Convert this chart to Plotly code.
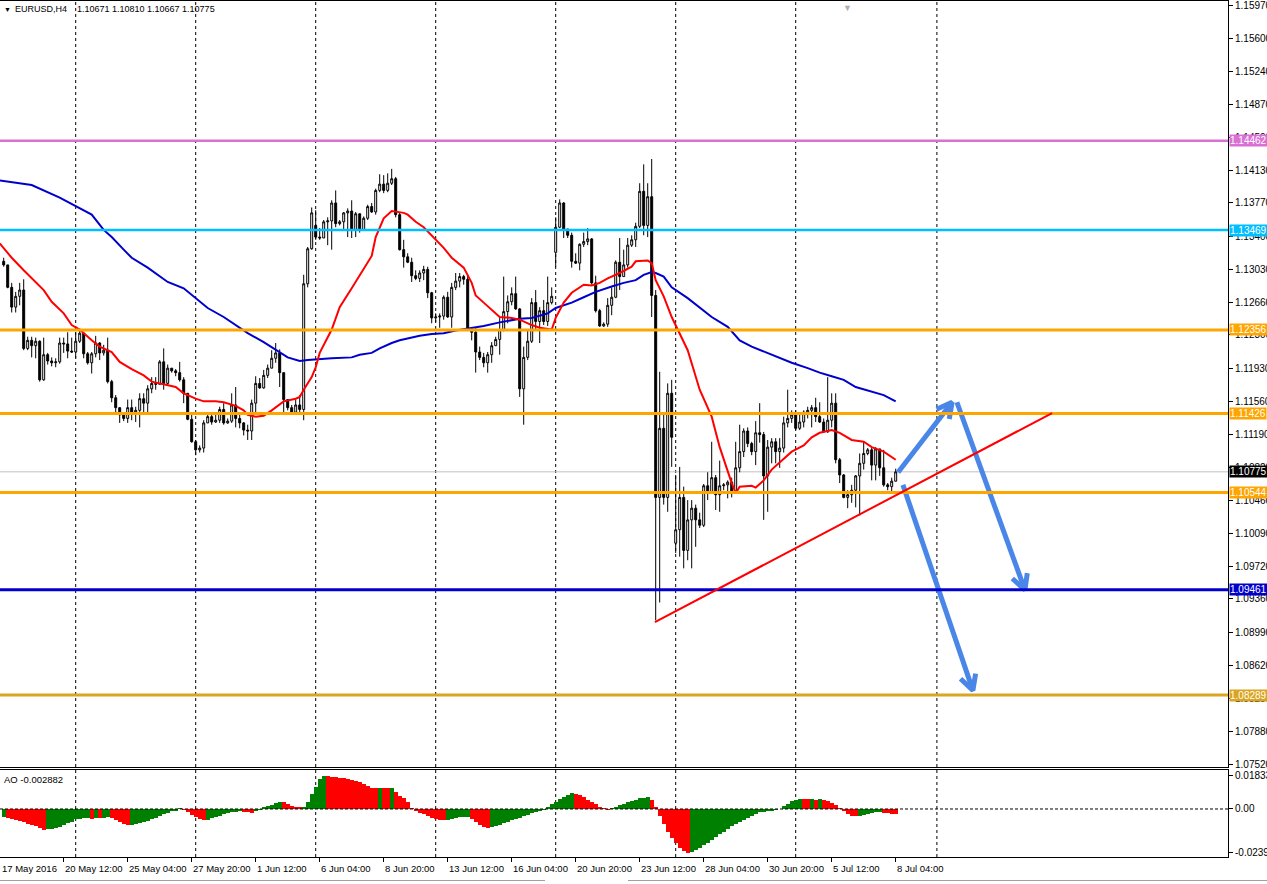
import math
import plotly.graph_objects as go

# ---------------- data ----------------
time_tick_idx = [-1, 15, 31, 47, 63, 79, 95, 111, 127, 143, 159, 175, 191, 207, 223]
time_tick_text = ["17 May 2016", "20 May 12:00", "25 May 04:00", "27 May 20:00", "1 Jun 12:00",
                  "6 Jun 04:00", "8 Jun 20:00", "13 Jun 12:00", "16 Jun 04:00", "20 Jun 20:00",
                  "23 Jun 12:00", "28 Jun 04:00", "30 Jun 20:00", "5 Jul 12:00", "8 Jul 04:00"]

price_ticks = [1.15970, 1.15600, 1.15240, 1.14870, 1.14500, 1.14130, 1.13770, 1.13400, 1.13030,
               1.12660, 1.12300, 1.11930, 1.11560, 1.11190, 1.10820, 1.10460, 1.10090, 1.09720,
               1.09360, 1.08990, 1.08620, 1.08250, 1.07880, 1.07520]

close = [
    1.1308, 1.1283, 1.1261, 1.1273, 1.1280, 1.1215, 1.1224, 1.1218, 1.1223, 1.1180,
    1.1208, 1.1201, 1.1199, 1.1200, 1.1221, 1.1220, 1.1212, 1.1211, 1.1223, 1.1232,
    1.1209, 1.1199, 1.1209, 1.1221, 1.1210, 1.1213, 1.1178, 1.1160, 1.1149, 1.1141,
    1.1137, 1.1149, 1.1144, 1.1146, 1.1159, 1.1154, 1.1170, 1.1176, 1.1175, 1.1200,
    1.1176, 1.1193, 1.1190, 1.1188, 1.1180, 1.1165, 1.1136, 1.1111, 1.1102, 1.1104,
    1.1132, 1.1139, 1.1133, 1.1135, 1.1147, 1.1132, 1.1134, 1.1152, 1.1137, 1.1132,
    1.1124, 1.1123, 1.1154, 1.1176, 1.1171, 1.1185, 1.1193, 1.1204, 1.1210, 1.1188,
    1.1158, 1.1149, 1.1144, 1.1152, 1.1147, 1.1287, 1.1326, 1.1366, 1.1339, 1.1338,
    1.1356, 1.1357, 1.1377, 1.1354, 1.1356, 1.1366, 1.1368, 1.1347, 1.1365, 1.1347,
    1.1360, 1.1373, 1.1367, 1.1391, 1.1398, 1.1391, 1.1399, 1.1404, 1.1364, 1.1325,
    1.1317, 1.1311, 1.1296, 1.1293, 1.1299, 1.1303, 1.1277, 1.1249, 1.1250, 1.1251,
    1.1272, 1.1250, 1.1283, 1.1290, 1.1295, 1.1292, 1.1237, 1.1233, 1.1211, 1.1205,
    1.1199, 1.1208, 1.1218, 1.1225, 1.1236, 1.1256, 1.1267, 1.1276, 1.1259, 1.1170,
    1.1205, 1.1223, 1.1266, 1.1245, 1.1257, 1.1245, 1.1266, 1.1273, 1.1350, 1.1377,
    1.1348, 1.1341, 1.1312, 1.1310, 1.1331, 1.1334, 1.1337, 1.1288, 1.1257, 1.1240,
    1.1242, 1.1263, 1.1272, 1.1311, 1.1295, 1.1308, 1.1330, 1.1336, 1.1351, 1.1390,
    1.1352, 1.1384, 1.1274, 1.1049, 1.1126, 1.1049, 1.1165, 1.1116, 1.1013, 1.1049,
    1.0990, 1.1024, 1.1037, 1.1024, 1.1018, 1.1062, 1.1054, 1.1071, 1.1052, 1.1062,
    1.1063, 1.1066, 1.1055, 1.1082, 1.1100, 1.1123, 1.1109, 1.1100, 1.1121, 1.1119,
    1.1073, 1.1105, 1.1111, 1.1100, 1.1104, 1.1132, 1.1137, 1.1141, 1.1126, 1.1133,
    1.1144, 1.1146, 1.1149, 1.1139, 1.1133, 1.1122, 1.1135, 1.1154, 1.1091, 1.1074,
    1.1049, 1.1052, 1.1057, 1.1073, 1.1087, 1.1098, 1.1102, 1.1085, 1.1103, 1.1082,
    1.1063, 1.1061, 1.10671, 1.10775]

high = [
    1.1316, 1.1308, 1.1288, 1.1278, 1.1288, 1.1292, 1.1228, 1.1228, 1.1227, 1.1224,
    1.1227, 1.1210, 1.1205, 1.1204, 1.1227, 1.1227, 1.1233, 1.1227, 1.1233, 1.1237,
    1.1228, 1.1211, 1.1211, 1.1229, 1.1222, 1.1219, 1.1227, 1.1180, 1.1163, 1.1149,
    1.1143, 1.1158, 1.1158, 1.1150, 1.1165, 1.1165, 1.1174, 1.1183, 1.1183, 1.1202,
    1.1215, 1.1197, 1.1193, 1.1192, 1.1200, 1.1183, 1.1165, 1.1143, 1.1113, 1.1107,
    1.1135, 1.1141, 1.1143, 1.1141, 1.1150, 1.1154, 1.1137, 1.1165, 1.1172, 1.1144,
    1.1133, 1.1130, 1.1158, 1.1184, 1.1182, 1.1191, 1.1197, 1.1213, 1.1221, 1.1214,
    1.1188, 1.1158, 1.1152, 1.1158, 1.1163, 1.1297, 1.1328, 1.1372, 1.1369, 1.1349,
    1.1358, 1.1361, 1.1380, 1.1391, 1.1358, 1.1367, 1.1371, 1.1380, 1.1367, 1.1360,
    1.1362, 1.1375, 1.1377, 1.1393, 1.1409, 1.1408, 1.1410, 1.1415, 1.1406, 1.1366,
    1.1336, 1.1321, 1.1316, 1.1302, 1.1302, 1.1307, 1.1306, 1.1278, 1.1254, 1.1254,
    1.1274, 1.1278, 1.1288, 1.1299, 1.1299, 1.1297, 1.1297, 1.1238, 1.1238, 1.1217,
    1.1210, 1.1211, 1.1222, 1.1228, 1.1250, 1.1295, 1.1274, 1.1283, 1.1295, 1.1260,
    1.1217, 1.1236, 1.1271, 1.1280, 1.1261, 1.1269, 1.1295, 1.1283, 1.1361, 1.1381,
    1.1378, 1.1348, 1.1344, 1.1321, 1.1332, 1.1344, 1.1349, 1.1338, 1.1296, 1.1259,
    1.1244, 1.1271, 1.1283, 1.1313, 1.1338, 1.1325, 1.1338, 1.1341, 1.1355, 1.1399,
    1.1420, 1.1399, 1.1426, 1.1280, 1.1189, 1.1143, 1.1176, 1.1180, 1.1074, 1.1083,
    1.1061, 1.1046, 1.1046, 1.1041, 1.1032, 1.1064, 1.1077, 1.1111, 1.1074, 1.1090,
    1.1065, 1.1068, 1.1071, 1.1111, 1.1130, 1.1126, 1.1127, 1.1111, 1.1134, 1.1154,
    1.1122, 1.1113, 1.1115, 1.1115, 1.1115, 1.1139, 1.1169, 1.1146, 1.1146, 1.1141,
    1.1146, 1.1150, 1.1152, 1.1160, 1.1155, 1.1137, 1.1183, 1.1165, 1.1165, 1.1093,
    1.1075, 1.1057, 1.1063, 1.1074, 1.1098, 1.1111, 1.1104, 1.1104, 1.1105, 1.1091,
    1.1102, 1.1065, 1.1071, 1.10810]

low = [
    1.1306, 1.1282, 1.1255, 1.1255, 1.1263, 1.1213, 1.1213, 1.1205, 1.1204, 1.1178,
    1.1179, 1.1197, 1.1195, 1.1194, 1.1198, 1.1210, 1.1204, 1.1210, 1.1204, 1.1221,
    1.1204, 1.1197, 1.1187, 1.1205, 1.1202, 1.1207, 1.1176, 1.1155, 1.1144, 1.1132,
    1.1134, 1.1132, 1.1135, 1.1133, 1.1127, 1.1144, 1.1144, 1.1165, 1.1169, 1.1176,
    1.1169, 1.1174, 1.1188, 1.1184, 1.1178, 1.1154, 1.1135, 1.1110, 1.1096, 1.1099,
    1.1099, 1.1132, 1.1130, 1.1132, 1.1132, 1.1130, 1.1131, 1.1132, 1.1127, 1.1126,
    1.1118, 1.1113, 1.1113, 1.1143, 1.1170, 1.1170, 1.1182, 1.1193, 1.1199, 1.1172,
    1.1143, 1.1146, 1.1141, 1.1143, 1.1144, 1.1135, 1.1283, 1.1325, 1.1336, 1.1336,
    1.1338, 1.1330, 1.1325, 1.1350, 1.1352, 1.1347, 1.1339, 1.1338, 1.1339, 1.1344,
    1.1352, 1.1358, 1.1366, 1.1364, 1.1389, 1.1388, 1.1389, 1.1397, 1.1361, 1.1324,
    1.1305, 1.1310, 1.1289, 1.1291, 1.1289, 1.1291, 1.1271, 1.1243, 1.1244, 1.1238,
    1.1247, 1.1249, 1.1238, 1.1280, 1.1283, 1.1286, 1.1236, 1.1224, 1.1188, 1.1202,
    1.1194, 1.1188, 1.1199, 1.1218, 1.1208, 1.1234, 1.1243, 1.1263, 1.1258, 1.1161,
    1.1130, 1.1202, 1.1221, 1.1236, 1.1221, 1.1241, 1.1240, 1.1264, 1.1306, 1.1349,
    1.1338, 1.1338, 1.1305, 1.1309, 1.1302, 1.1328, 1.1330, 1.1286, 1.1255, 1.1239,
    1.1239, 1.1239, 1.1252, 1.1271, 1.1280, 1.1295, 1.1305, 1.1328, 1.1328, 1.1349,
    1.1341, 1.1339, 1.1250, 1.0912, 1.0932, 1.1041, 1.1033, 1.1083, 1.0987, 1.0983,
    1.0970, 1.0979, 1.0970, 1.0994, 1.1015, 1.1016, 1.1046, 1.1054, 1.1035, 1.1033,
    1.1057, 1.1048, 1.1049, 1.1054, 1.1077, 1.1094, 1.1105, 1.1096, 1.1085, 1.1110,
    1.1024, 1.1033, 1.1087, 1.1087, 1.1082, 1.1099, 1.1127, 1.1132, 1.1124, 1.1124,
    1.1127, 1.1137, 1.1127, 1.1133, 1.1132, 1.1121, 1.1121, 1.1127, 1.1087, 1.1065,
    1.1048, 1.1037, 1.1043, 1.1038, 1.1029, 1.1080, 1.1096, 1.1068, 1.1068, 1.1073,
    1.1061, 1.1057, 1.1055, 1.10667]

first_open = 1.1312
gap_open_idx = [78, 138, 168, 223]
gap_open_val = [1.1352, 1.1322, 1.0998, 1.10671]

red_ma_idx = [-1, 2, 5, 7, 10, 12, 15, 17, 19, 22, 24, 27, 29, 32, 35, 37, 40, 43, 45, 48,
              50, 53, 55, 58, 60, 61, 63, 65, 67, 69, 70, 73, 74, 75, 77, 78, 79, 82, 84, 87,
              89, 92, 93, 95, 97, 100, 101, 103, 105, 108, 110, 112, 115, 117, 118, 120, 122, 124, 127, 129,
              132, 134, 137, 138, 140, 142, 145, 147, 149, 151, 154, 157, 158, 161, 162, 163, 165, 167, 171, 174,
              177, 179, 182, 183, 184, 187, 188, 190, 192, 195, 197, 200, 202, 204, 207, 209, 212, 215, 217, 220, 223]
red_ma_val = [1.1332, 1.1316, 1.1302, 1.1293, 1.1280, 1.1267, 1.1254, 1.1241, 1.1236, 1.1224,
              1.1217, 1.1211, 1.1200, 1.1192, 1.1185, 1.1178, 1.1175, 1.1172, 1.1165, 1.1159,
              1.1156, 1.1156, 1.1155, 1.1151, 1.1146, 1.1141, 1.1139, 1.1140, 1.1146, 1.1152,
              1.1156, 1.1159, 1.1161, 1.1169, 1.1183, 1.1194, 1.1210, 1.1236, 1.1261, 1.1282,
              1.1297, 1.1318, 1.1339, 1.1360, 1.1368, 1.1366, 1.1364, 1.1356, 1.1350, 1.1336,
              1.1327, 1.1316, 1.1305, 1.1288, 1.1274, 1.1266, 1.1258, 1.1250, 1.1249, 1.1247,
              1.1241, 1.1238, 1.1236, 1.1249, 1.1266, 1.1277, 1.1286, 1.1285, 1.1288, 1.1293,
              1.1299, 1.1306, 1.1312, 1.1313, 1.1310, 1.1291, 1.1273, 1.1250, 1.1213, 1.1169,
              1.1139, 1.1105, 1.1065, 1.1054, 1.1061, 1.1062, 1.1060, 1.1068, 1.1080, 1.1092,
              1.1100, 1.1107, 1.1116, 1.1121, 1.1124, 1.1121, 1.1113, 1.1111, 1.1105, 1.1100, 1.1091]

blue_ma_idx = [-1, 7, 14, 22, 25, 27, 30, 32, 36, 39, 41, 45, 48, 51, 55, 58, 61, 65, 68, 71,
               74, 76, 82, 87, 89, 92, 94, 97, 99, 102, 104, 107, 110, 113, 117, 120, 124, 129, 132, 136,
               138, 142, 145, 148, 152, 155, 158, 160, 162, 163, 165, 167, 171, 174, 177, 181, 184, 187, 191, 194,
               197, 201, 204, 207, 210, 213, 217, 220, 223]
blue_ma_val = [1.1402, 1.1397, 1.1383, 1.1364, 1.1347, 1.1339, 1.1325, 1.1316, 1.1305, 1.1295,
               1.1289, 1.1282, 1.1271, 1.1260, 1.1250, 1.1241, 1.1232, 1.1222, 1.1213, 1.1205,
               1.1201, 1.1202, 1.1204, 1.1205, 1.1208, 1.1210, 1.1215, 1.1221, 1.1224, 1.1227,
               1.1229, 1.1231, 1.1232, 1.1235, 1.1238, 1.1240, 1.1244, 1.1248, 1.1249, 1.1254,
               1.1260, 1.1266, 1.1272, 1.1278, 1.1284, 1.1288, 1.1291, 1.1297, 1.1300, 1.1299,
               1.1295, 1.1283, 1.1271, 1.1260, 1.1250, 1.1239, 1.1224, 1.1217, 1.1210, 1.1204,
               1.1199, 1.1193, 1.1188, 1.1184, 1.1180, 1.1172, 1.1167, 1.1163, 1.1156]

ao = [
    -0.0042, -0.0051, -0.0055, -0.0061, -0.0066, -0.0074, -0.0081, -0.0088, -0.0096, -0.0103,
    -0.0114, -0.0112, -0.0110, -0.0103, -0.0097, -0.0088, -0.0079, -0.0070, -0.0057, -0.0053,
    -0.0052, -0.0051, -0.0053, -0.0048, -0.0051, -0.0047, -0.0046, -0.0051, -0.0061, -0.0070,
    -0.0081, -0.0088, -0.0086, -0.0081, -0.0075, -0.0070, -0.0064, -0.0057, -0.0048, -0.0039,
    -0.0029, -0.0022, -0.0013, -0.0007, 0.0004, -0.0004, -0.0017, -0.0031, -0.0046, -0.0057,
    -0.0062, -0.0059, -0.0051, -0.0044, -0.0037, -0.0029, -0.0022, -0.0018, -0.0015, -0.0013,
    -0.0017, -0.0019, -0.0020, -0.0013, -0.0004, 0.0006, 0.0015, 0.0024, 0.0031, 0.0040,
    0.0039, 0.0026, 0.0017, 0.0011, 0.0007, 0.0009, 0.0040, 0.0081, 0.0123, 0.0165,
    0.01833, 0.0181, 0.0179, 0.0176, 0.0173, 0.0169, 0.0165, 0.0160, 0.0154, 0.0147,
    0.0136, 0.0129, 0.0118, 0.0116, 0.0117, 0.0115, 0.0114, 0.0115, 0.0096, 0.0074,
    0.0059, 0.0037, 0.0004, -0.0011, -0.0020, -0.0030, -0.0040, -0.0048, -0.0055, -0.0060,
    -0.0063, -0.0060, -0.0055, -0.0050, -0.0046, -0.0043, -0.0042, -0.0055, -0.0072, -0.0088,
    -0.0098, -0.0104, -0.0100, -0.0094, -0.0087, -0.0079, -0.0071, -0.0063, -0.0055, -0.0047,
    -0.0040, -0.0032, -0.0024, -0.0016, -0.0009, -0.0002, 0.0012, 0.0025, 0.0040, 0.0055,
    0.0068, 0.0078, 0.0086, 0.0083, 0.0075, 0.0065, 0.0052, 0.0040, 0.0026, 0.0012,
    0.0005, -0.0003, 0.0002, 0.0010, 0.0020, 0.0028, 0.0036, 0.0044, 0.0052, 0.0058,
    0.0063, 0.0066, 0.0050, 0.0010, -0.0040, -0.0085, -0.0125, -0.0160, -0.0190, -0.0215,
    -0.0232, -0.02399, -0.0238, -0.0228, -0.0215, -0.0200, -0.0185, -0.0170, -0.0155, -0.0140,
    -0.0125, -0.0110, -0.0095, -0.0082, -0.0070, -0.0058, -0.0047, -0.0036, -0.0027, -0.0019,
    -0.0014, -0.0010, -0.0007, -0.0004, 0.0000, 0.0015, 0.0030, 0.0042, 0.0050, 0.0055,
    0.0054, 0.0053, 0.0055, 0.0052, 0.0053, 0.0050, 0.0044, 0.0035, 0.0020, 0.0005,
    -0.0010, -0.0025, -0.0038, -0.0040, -0.0038, -0.0032, -0.0026, -0.0022, -0.0019, -0.0018,
    -0.0020, -0.0024, -0.0027, -0.002882]

level_prices = [1.14462, 1.13469, 1.12356, 1.11426, 1.10544, 1.09461, 1.08289]
level_colors = ["#DA70D6", "#00BFFF", "#FFA500", "#FFA500", "#FFA500", "#0000CD", "#DAA520"]
level_widths = [2.5, 2.5, 3, 3, 3, 3, 3]
current_price = 1.10775

grid_idx = [18, 48, 78, 108, 138, 168, 198, 233.3]

trend_x = [162.8, 262.1]
trend_y = [1.0910, 1.1143]

arrow_x0 = [223.6, 238.3, 224.8]
arrow_y0 = [1.1077, 1.1155, 1.1063]
arrow_x1 = [237.1, 255.3, 242.3]
arrow_y1 = [1.1155, 1.0946, 1.0834]

# ---------------- build ----------------
FONT = "Liberation Sans, Arial, sans-serif"
n = len(close)
xs = list(range(n))
opens = [first_open] + close[:-1]
for gi, gv in zip(gap_open_idx, gap_open_val):
    opens[gi] = gv
highs = [max(h, o, c) for h, o, c in zip(high, opens, close)]
lows = [min(l, o, c) for l, o, c in zip(low, opens, close)]

XR = [-0.925, 306.075]
YR = [1.07487, 1.16020]
AOR = [-0.026446, 0.021488]
PLOT_W = 1228.0
PLOT_H = 856.0


def px_x(p):
    return p / PLOT_W


def px_y(p):
    return (857.0 - p) / PLOT_H


fig = go.Figure()

fig.add_trace(go.Candlestick(
    x=xs, open=opens, high=highs, low=lows, close=close,
    increasing=dict(line=dict(color="black", width=1), fillcolor="white"),
    decreasing=dict(line=dict(color="black", width=1), fillcolor="black"),
    whiskerwidth=0, hoverinfo="skip", xaxis="x", yaxis="y", showlegend=False))

fig.add_trace(go.Scatter(x=blue_ma_idx, y=blue_ma_val, mode="lines",
                         line=dict(color="#0000CD", width=2), hoverinfo="skip",
                         xaxis="x", yaxis="y", showlegend=False))
fig.add_trace(go.Scatter(x=red_ma_idx, y=red_ma_val, mode="lines",
                         line=dict(color="#FF0000", width=2), hoverinfo="skip",
                         xaxis="x", yaxis="y", showlegend=False))

# AO histogram
ao_colors = []
for i, v in enumerate(ao):
    if i == 0 or v > ao[i - 1]:
        ao_colors.append("#008000")
    else:
        ao_colors.append("#FF0000")
fig.add_trace(go.Bar(x=xs, y=ao, width=1.0, marker=dict(color=ao_colors, line=dict(width=0)),
                     hoverinfo="skip", xaxis="x2", yaxis="y2", showlegend=False))

# arrows (shaft + open head), geometry computed in pixel space
PX_PER_BAR = 4.0
PX_PER_PRICE = 8974.0
ARROW_COLOR = "#4A86E8"
for x0, y0, x1, y1 in zip(arrow_x0, arrow_y0, arrow_x1, arrow_y1):
    dx = (x1 - x0) * PX_PER_BAR
    dy = (y1 - y0) * PX_PER_PRICE
    L = math.hypot(dx, dy)
    ux, uy = dx / L, dy / L
    head = 17.0
    pts = []
    for ang in (math.radians(28), -math.radians(28)):
        rx = ux * math.cos(ang) - uy * math.sin(ang)
        ry = ux * math.sin(ang) + uy * math.cos(ang)
        pts.append((x1 - head * rx / PX_PER_BAR, y1 - head * ry / PX_PER_PRICE))
    fig.add_trace(go.Scatter(x=[x0, x1], y=[y0, y1], mode="lines",
                             line=dict(color=ARROW_COLOR, width=5), hoverinfo="skip",
                             xaxis="x", yaxis="y", showlegend=False))
    fig.add_trace(go.Scatter(x=[pts[0][0], x1, pts[1][0]], y=[pts[0][1], y1, pts[1][1]],
                             mode="lines", line=dict(color=ARROW_COLOR, width=5),
                             hoverinfo="skip", xaxis="x", yaxis="y", showlegend=False))

shapes = []
for g in grid_idx:
    shapes.append(dict(type="line", xref="x", yref="paper", x0=g, x1=g, y0=0, y1=1,
                       line=dict(color="black", width=1, dash="3px,3px"), layer="below"))
shapes.append(dict(type="line", xref="paper", yref="y2", x0=0, x1=1, y0=0, y1=0,
                   line=dict(color="black", width=1, dash="3px,2px")))
shapes.append(dict(type="line", xref="paper", yref="y", x0=0, x1=1, y0=current_price, y1=current_price,
                   line=dict(color="#C0C0C0", width=1), layer="below"))
for p, c, w in zip(level_prices, level_colors, level_widths):
    shapes.append(dict(type="line", xref="paper", yref="y", x0=0, x1=1, y0=p, y1=p,
                       line=dict(color=c, width=w)))
shapes.append(dict(type="line", xref="x", yref="y", x0=trend_x[0], x1=trend_x[1],
                   y0=trend_y[0], y1=trend_y[1], line=dict(color="#FF0000", width=2)))
# bottom tab strip of the terminal window
shapes.append(dict(type="line", xref="paper", yref="paper", x0=px_x(0), x1=px_x(545),
                   y0=px_y(880.5), y1=px_y(880.5), line=dict(color="#A0A0A0", width=1)))
shapes.append(dict(type="line", xref="paper", yref="paper", x0=px_x(628), x1=px_x(1267),
                   y0=px_y(880.5), y1=px_y(880.5), line=dict(color="#A0A0A0", width=1)))

annotations = []
# price tags on the axis
tag_prices = level_prices + [current_price]
tag_colors = level_colors + ["#000000"]
for p, c in zip(tag_prices, tag_colors):
    annotations.append(dict(xref="paper", yref="y", x=1, y=p, xanchor="left", yanchor="middle",
                            text=f"{p:.5f}", showarrow=False, bgcolor=c, borderpad=0, xshift=1,
                            font=dict(family=FONT, size=10, color="white")))
# time labels (left aligned at tick)
for ti, tt in zip(time_tick_idx, time_tick_text):
    ax = max(ti, XR[0] + 0.01)
    annotations.append(dict(xref="x2", yref="paper", x=ax, y=px_y(861), xanchor="left", yanchor="top",
                            text=tt, showarrow=False, xshift=-1 if ti > 0 else 0,
                            font=dict(family=FONT, size=9.5, color="black")))
# title and indicator labels
annotations.append(dict(xref="paper", yref="paper", x=px_x(2), y=px_y(9), xanchor="left", yanchor="middle",
                        text="▼", showarrow=False, font=dict(family=FONT, size=7, color="black")))
annotations.append(dict(xref="paper", yref="paper", x=px_x(13), y=px_y(9), xanchor="left", yanchor="middle",
                        text="EURUSD,H4", showarrow=False, font=dict(family=FONT, size=9, color="black")))
annotations.append(dict(xref="paper", yref="paper", x=px_x(75), y=px_y(9), xanchor="left", yanchor="middle",
                        text="1.10671 1.10810 1.10667 1.10775", showarrow=False,
                        font=dict(family=FONT, size=9, color="black")))
annotations.append(dict(xref="paper", yref="paper", x=px_x(2), y=px_y(779), xanchor="left", yanchor="middle",
                        text="AO -0.002882", showarrow=False, font=dict(family=FONT, size=9.5, color="black")))
annotations.append(dict(xref="x", yref="paper", x=211, y=1.0, xanchor="center", yanchor="top",
                        text="▼", showarrow=False, font=dict(family=FONT, size=9, color="#B0B0B0")))

fig.update_layout(
    width=1267, height=884,
    margin=dict(l=0, r=39, t=1, b=27, pad=0, autoexpand=False),
    paper_bgcolor="white", plot_bgcolor="white",
    showlegend=False, hovermode=False, bargap=0,
    font=dict(family=FONT, size=10, color="black"),
    xaxis=dict(domain=[0, 1], range=XR, anchor="y", showline=True, mirror=True, linecolor="black",
               linewidth=1, showgrid=False, zeroline=False, showticklabels=False, ticks="",
               rangeslider=dict(visible=False), fixedrange=True, automargin=False),
    yaxis=dict(domain=[0.10514, 1], range=YR, anchor="x", side="right", showline=True,
               linecolor="black", linewidth=1, showgrid=False, zeroline=False, ticks="outside",
               ticklen=4, tickcolor="black", tickvals=price_ticks,
               ticktext=[f"{v:.5f}" for v in price_ticks], automargin=False,
               ticklabeloverflow="allow",
               tickfont=dict(family=FONT, size=10, color="black"), fixedrange=True),
    xaxis2=dict(domain=[0, 1], range=XR, anchor="y2", showline=True, mirror=True, linecolor="black",
                linewidth=1, showgrid=False, zeroline=False, showticklabels=False, ticks="outside",
                ticklen=4, tickcolor="black", tickvals=time_tick_idx, fixedrange=True, automargin=False),
    yaxis2=dict(domain=[0, 0.10164], range=AOR, anchor="x2", side="right", showline=True,
                linecolor="black", linewidth=1, showgrid=False, zeroline=False, ticks="outside",
                ticklen=4, tickcolor="black", tickvals=[0.01833, 0.0, -0.02399],
                ticktext=["0.01833", "0.00", "-0.02399"], automargin=False,
                ticklabeloverflow="allow",
                tickfont=dict(family=FONT, size=10, color="black"), fixedrange=True),
    shapes=shapes, annotations=annotations,
)

fig.write_html("out.html", config={"displayModeBar": False},
               post_script="document.body.style.margin='0px';document.body.style.padding='0px';"
                           "document.body.style.overflow='hidden';")
